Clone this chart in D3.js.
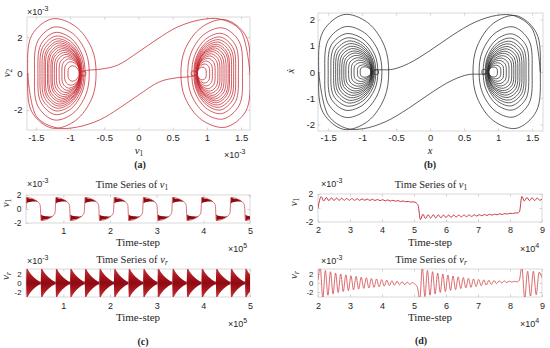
<!DOCTYPE html>
<html>
<head>
<meta charset="utf-8">
<script src="https://cdn.jsdelivr.net/npm/d3@7"></script>
<style>
body{margin:0;background:#fff}
text{font-family:"Liberation Sans",Arial,sans-serif;fill:#262626}
.serif{font-family:"Liberation Serif","Times New Roman",serif}
</style>
</head>
<body>
<script>
// ---- (a) phase portrait v1 vs v2 (x1e-3) : nested loops, outer edge / inner edge / half height
const aLeftOuter  = [-1.62,-1.52,-1.47,-1.44,-1.41,-1.38,-1.36,-1.33,-1.31,-1.28,-1.26,-1.23,-1.20,-1.16,-1.12,-1.08,-1.03];
const aLeftInner  = [-0.62,-0.72,-0.78,-0.80,-0.82,-0.83,-0.84,-0.84,-0.85,-0.85,-0.85,-0.86,-0.86,-0.86,-0.86,-0.86,-0.87];
const aLeftH      = [3.0,2.55,2.25,2.05,1.9,1.78,1.67,1.56,1.46,1.36,1.26,1.15,1.04,0.92,0.8,0.64,0.42];
const aRightOuter = [1.63,1.52,1.46,1.42,1.39,1.36,1.33,1.31,1.28,1.25,1.22,1.19,1.16,1.12,1.08,1.04,0.99];
const aRightInner = [0.62,0.72,0.78,0.81,0.82,0.83,0.84,0.85,0.85,0.85,0.86,0.86,0.86,0.86,0.86,0.86,0.86];
const aRightH     = [2.95,2.5,2.2,2.0,1.85,1.72,1.6,1.5,1.4,1.3,1.2,1.08,0.96,0.83,0.68,0.52,0.35];
const aKnotX = [-0.81, 0.81];
const aKnotH = [0.14, 0.14];
const aUpX  = [-0.80,-0.74,-0.55,-0.31,0,0.28,0.57,0.91,1.2,1.49,1.63];
const aUpY  = [0.12,0.18,0.24,0.45,1.18,1.9,2.55,2.95,2.98,2.36,0];
const aLowX = [0.80,0.74,0.55,0.31,0,-0.28,-0.57,-0.91,-1.2,-1.49,-1.62];
const aLowY = [-0.12,-0.18,-0.24,-0.45,-1.18,-1.9,-2.55,-2.95,-2.98,-2.36,0];

// ---- (b) phase portrait x vs xdot
const bLeftOuter  = [-1.64,-1.55,-1.50,-1.46,-1.42,-1.39,-1.36,-1.33,-1.30,-1.27,-1.24,-1.20,-1.16,-1.12,-1.07,-1.03];
const bLeftInner  = [-0.61,-0.71,-0.77,-0.80,-0.82,-0.83,-0.84,-0.85,-0.85,-0.86,-0.86,-0.86,-0.87,-0.87,-0.87,-0.87];
const bLeftH      = [2.19,1.73,1.46,1.30,1.18,1.08,0.98,0.89,0.80,0.72,0.63,0.54,0.45,0.36,0.27,0.2];
const bRightOuter = [1.62,1.50,1.45,1.41,1.38,1.35,1.32,1.29,1.26,1.23,1.20,1.16,1.12,1.08,1.04,0.99];
const bRightInner = [0.63,0.72,0.78,0.81,0.82,0.83,0.84,0.85,0.85,0.85,0.86,0.86,0.86,0.86,0.86,0.86];
const bRightH     = [2.15,1.72,1.45,1.29,1.17,1.07,0.97,0.88,0.79,0.71,0.62,0.53,0.44,0.35,0.26,0.19];
const bKnotX = [-0.80, 0.80];
const bKnotH = [0.1, 0.1];
const bUpX  = [-0.82,-0.78,-0.56,-0.32,0,0.32,0.66,0.98,1.23,1.50,1.62];
const bUpY  = [0.05,0.08,0.10,0.32,0.82,1.39,1.90,2.16,2.15,1.65,0];
const bLowX = [0.82,0.78,0.56,0.32,0,-0.32,-0.66,-0.98,-1.23,-1.50,-1.64];
const bLowY = [-0.05,-0.08,-0.10,-0.32,-0.82,-1.39,-1.90,-2.16,-2.15,-1.65,0];

// ---- (c) long time series (time in 1e5, values in 1e-3)
const cPosStart = [0.205,0.835,1.46,2.085,2.71,3.335,3.96,4.585];
const cNegStart = [0.517,1.145,1.77,2.395,3.02,3.645,4.27,4.895];
const cBandF  = [0.02,0.15,0.35,0.55,0.78];
const cPosHi  = [1.7,1.55,1.45,1.34,1.12];
const cPosLo  = [0.8,0.98,1.05,1.06,1.02];
const cNegHi  = [-0.8,-0.98,-1.05,-1.06,-1.02];
const cNegLo  = [-1.7,-1.55,-1.45,-1.34,-1.12];
const cLineF  = [0.02,0.78,0.88,0.96];
const cPosLine = [1.65,1.05,0.85,0.5];
const cNegLine = [-1.65,-1.05,-0.85,-0.5];
const cVrF   = [0,0.03,0.2,0.4,0.6,0.8,0.95,1.0];
const cVrAmp = [0.3,3.3,2.4,1.6,1.0,0.55,0.3,0.3];

// ---- (d) zoomed time series (time in 1e4, values in 1e-3), extrema
const dHalf = 0.08;
const dV1Lead = [[2.0,0.0],[2.1,1.62]];
const dV1Seg1 = [1.0,1.5,1.05,1.45,1.06,1.42,1.08,1.4,1.09,1.37,1.1,1.35,1.1,1.32,1.1,1.3,1.1,1.27,1.08,1.25,1.07,1.22,1.05,1.19,1.02,1.15,1.0,1.1,0.97,1.05,0.93,1.0,0.9,0.94,0.85,0.88];
const dV1Drop = [[5.07,0.72],[5.13,0.35],[5.2,-1.65]];
const dV1Seg2 = [-0.9,-1.5,-0.95,-1.45,-0.96,-1.42,-0.98,-1.4,-1.0,-1.37,-1.0,-1.34,-1.0,-1.3,-1.0,-1.27,-1.0,-1.24,-0.98,-1.2,-0.97,-1.16,-0.95,-1.12,-0.92,-1.07,-0.9,-1.02,-0.87,-0.97,-0.83,-0.92,-0.8,-0.86,-0.75,-0.79,-0.7,-0.72];
const dV1Rise = [[8.3,-0.45],[8.37,1.65]];
const dV1Seg3 = [1.0,1.5,1.05,1.45,1.06,1.42,1.1];
const dV1End  = [[9.0,1.3]];
const dVrLead = [[2.0,0.6]];
const dVrSeg1 = [3.5,-3.4,2.8,-2.7,2.5,-2.4,2.2,-2.1,2.0,-1.9,1.8,-1.7,1.6,-1.5,1.45,-1.35,1.3,-1.2,1.15,-1.1,1.0,-0.95,0.9,-0.85,0.75,-0.7,0.62,-0.58,0.5,-0.48,0.4,-0.4,0.3,-0.35,0.2,-0.3,0.1,-0.3];
const dVrDip  = [[5.1,-0.8],[5.18,-3.6]];
const dVrSeg2 = [3.6,-3.0,2.8,-2.7,2.5,-2.4,2.2,-2.1,2.0,-1.9,1.75,-1.65,1.55,-1.45,1.35,-1.25,1.2,-1.1,1.05,-0.95,0.9,-0.8,0.8,-0.6,0.7,-0.45,0.6,-0.3,0.55,-0.15,0.5,0.0,0.45,0.1,0.4,0.2,0.38,0.25];
const dVrSpike = [[8.29,0.6],[8.37,3.5],[8.46,-3.4]];
const dVrSeg3 = [2.6,-2.9,2.6,-2.6,2.4];
const dVrEnd  = [[9.0,1.2]];

const svg = d3.select('body').append('svg')
  .attr('width', 550)
  .attr('height', 348);

const defs = svg.append('defs');
const grad = defs.append('linearGradient').attr('id', 'vrGrad')
  .attr('x1', 0).attr('y1', 0).attr('x2', 0).attr('y2', 1);
[[0, '#c43a42'], [0.3, '#a8151d'], [0.5, '#8e0a12'], [0.7, '#a8151d'], [1, '#c43a42']]
  .forEach(s => grad.append('stop').attr('offset', s[0]).attr('stop-color', s[1]));

function panel(c) {
  const x = d3.scaleLinear().domain(c.xd).range([c.l, c.r]);
  const y = d3.scaleLinear().domain(c.yd).range([c.b, c.t]);
  const g = svg.append('g');
  const tk = '#d0d0d0';
  const gx = g.append('g').attr('transform', `translate(0,${c.b})`)
    .call(d3.axisBottom(x).tickValues(c.xt).tickSizeInner(-2.5).tickSizeOuter(0).tickPadding(c.xpad).tickFormat(d => d));
  const gy = g.append('g').attr('transform', `translate(${c.l},0)`)
    .call(d3.axisLeft(y).tickValues(c.yt).tickSizeInner(-2.5).tickSizeOuter(0).tickPadding(c.ypad).tickFormat(d => d));
  g.append('g').attr('transform', `translate(0,${c.t})`)
    .call(d3.axisTop(x).tickValues(c.xt).tickSizeInner(-2.5).tickSizeOuter(0).tickFormat(''));
  g.append('g').attr('transform', `translate(${c.r},0)`)
    .call(d3.axisRight(y).tickValues(c.yt).tickSizeInner(-2.5).tickSizeOuter(0).tickFormat(''));
  g.selectAll('.domain').remove();
  g.selectAll('.tick line').attr('stroke', tk);
  g.selectAll('.tick text').attr('fill', '#262626')
    .style('font-family', '"Liberation Sans",Arial,sans-serif');
  gx.selectAll('.tick text').style('font-size', c.fs + 'px');
  gy.selectAll('.tick text').style('font-size', (c.yfs || c.fs) + 'px');
  g.append('rect').attr('x', c.l).attr('y', c.t).attr('width', c.r - c.l).attr('height', c.b - c.t)
    .attr('fill', 'none').attr('stroke', tk).attr('stroke-width', 0.8);
  svg.append('clipPath').attr('id', 'clip' + c.id).append('rect')
    .attr('x', c.l).attr('y', c.t).attr('width', c.r - c.l).attr('height', c.b - c.t);
  const plot = svg.append('g').attr('clip-path', `url(#clip${c.id})`);
  return {x, y, plot};
}

function sci(x, y, e) {
  const t = svg.append('text').attr('x', x).attr('y', y).style('font-size', '9px');
  t.append('tspan').text('×10');
  t.append('tspan').attr('dy', -4).style('font-size', '7px').text(e);
}

function mathText(x, y, base, sub, opts) {
  const t = svg.append('text').attr('class', 'serif')
    .attr('text-anchor', opts.anchor || 'middle')
    .style('font-size', (opts.fs || 11) + 'px');
  if (opts.rotate) t.attr('transform', `translate(${x},${y}) rotate(-90)`);
  else t.attr('x', x).attr('y', y);
  if (opts.prefix) t.append('tspan').text(opts.prefix);
  t.append('tspan').style('font-style', 'italic').text(base);
  if (sub) t.append('tspan').attr('dy', 2).style('font-size', '7.5px')
    .style('font-style', opts.subItalic ? 'italic' : 'normal').text(sub);
  return t;
}

function plainText(x, y, s, fs, cls, weight) {
  svg.append('text').attr('x', x).attr('y', y).attr('text-anchor', 'middle')
    .attr('class', cls || null).style('font-size', fs + 'px')
    .style('font-weight', weight || 'normal').text(s);
}

// closed egg-like loop: steep inner side, dome leaning to the outer side
const loopLine = d3.line().curve(d3.curveCatmullRomClosed.alpha(0.5));
function loopPts(P, xo, xi, h) {
  const w = xi - xo;
  return [
    [xi, 0], [xi - 0.06 * w, 0.45 * h], [xi - 0.3 * w, 0.86 * h], [xo + 0.36 * w, h], [xo + 0.06 * w, 0.7 * h],
    [xo, 0], [xo + 0.06 * w, -0.7 * h], [xo + 0.36 * w, -h], [xi - 0.3 * w, -0.86 * h], [xi - 0.06 * w, -0.45 * h]
  ].map(p => [P.x(p[0]), P.y(p[1])]);
}
const openLine = d3.line().curve(d3.curveCatmullRom.alpha(0.5));

function phase(P, color, sw, L) {
  const loops = [];
  L.lo.forEach((v, i) => loops.push([v, L.li[i], L.lh[i]]));
  L.ro.forEach((v, i) => loops.push([v, L.ri[i], L.rh[i]]));
  P.plot.selectAll('path.loop').data(loops).join('path').attr('class', 'loop')
    .attr('d', d => loopLine(loopPts(P, d[0], d[1], d[2])))
    .attr('fill', 'none').attr('stroke', color).attr('stroke-width', sw);
  P.plot.selectAll('path.knot').data(L.kx).join('path').attr('class', 'knot')
    .attr('d', (d, i) => loopLine(loopPts(P, d - 0.04 * Math.sign(d), d + 0.04 * Math.sign(d), L.kh[i])))
    .attr('fill', 'none').attr('stroke', color).attr('stroke-width', sw);
  [[L.ux, L.uy], [L.wx, L.wy]].forEach(([xs, ys]) => {
    P.plot.append('path').attr('d', openLine(xs.map((v, i) => [P.x(v), P.y(ys[i])])))
      .attr('fill', 'none').attr('stroke', color).attr('stroke-width', sw);
  });
}

// ---------- (a)
const A = panel({id: 'a', l: 27, r: 250, t: 17, b: 130, xd: [-1.63, 1.63], yd: [-3.1, 3.1],
  xt: [-1.5, -1, -0.5, 0, 0.5, 1, 1.5], yt: [-2, 0, 2], xpad: 4.5, ypad: 4.5, fs: 9.5});
phase(A, '#c4262e', 0.75, {lo: aLeftOuter, li: aLeftInner, lh: aLeftH, ro: aRightOuter, ri: aRightInner, rh: aRightH,
  kx: aKnotX, kh: aKnotH, ux: aUpX, uy: aUpY, wx: aLowX, wy: aLowY});
sci(27, 15, '-3');
sci(224, 158, '-3');
mathText(139, 154, 'v', '1', {});
mathText(10, 73, 'v', '2', {rotate: true});
plainText(140, 168, '(a)', 10, 'serif', 'bold');

// ---------- (b)
const B = panel({id: 'b', l: 318, r: 543, t: 13, b: 131, xd: [-1.65, 1.66], yd: [-2.25, 2.25],
  xt: [-1.5, -1, -0.5, 0, 0.5, 1, 1.5], yt: [-2, -1, 0, 1, 2], xpad: 3.5, ypad: 3, fs: 9.5});
phase(B, '#2b2b2b', 0.75, {lo: bLeftOuter, li: bLeftInner, lh: bLeftH, ro: bRightOuter, ri: bRightInner, rh: bRightH,
  kx: bKnotX, kh: bKnotH, ux: bUpX, uy: bUpY, wx: bLowX, wy: bLowY});
mathText(430, 154, 'x', null, {fs: 10.5});
mathText(294, 71, 'ẋ', null, {rotate: true});
plainText(430, 168, '(b)', 10, 'serif', 'bold');

// ---------- (c)
const C1 = panel({id: 'c1', l: 26, r: 250, t: 195, b: 223, xd: [0.2, 5], yd: [-2, 2],
  xt: [1, 2, 3, 4, 5], yt: [-2, 0, 2], xpad: 5, ypad: 4.5, fs: 9, yfs: 8.5});
const C2 = panel({id: 'c2', l: 26, r: 250, t: 269, b: 297, xd: [0.2, 5], yd: [-3, 3],
  xt: [1, 2, 3, 4, 5], yt: [-2, 0, 2], xpad: 5.5, ypad: 4.5, fs: 9, yfs: 7.8});

const halves = [];
cPosStart.forEach((s, i) => {
  halves.push({s, e: cNegStart[i], pos: true});
  halves.push({s: cNegStart[i], e: cPosStart[i + 1] !== undefined ? cPosStart[i + 1] : cNegStart[i] + (cNegStart[i] - s), pos: false});
});

const band = d3.area().curve(d3.curveMonotoneX);
C1.plot.selectAll('path.band').data(halves).join('path').attr('class', 'band')
  .attr('d', h => {
    const hi = h.pos ? cPosHi : cNegHi, lo = h.pos ? cPosLo : cNegLo;
    return band.x(f => C1.x(h.s + f * (h.e - h.s))).y0((f, i) => C1.y(lo[i])).y1((f, i) => C1.y(hi[i]))(cBandF);
  })
  .attr('fill', '#8a0c12');

const cTrace = [[0.2, 0]];
halves.forEach(h => cLineF.forEach((f, i) => cTrace.push([h.s + f * (h.e - h.s), (h.pos ? cPosLine : cNegLine)[i]])));
C1.plot.append('path')
  .attr('d', d3.line().curve(d3.curveMonotoneX).x(d => C1.x(d[0])).y(d => C1.y(d[1]))(cTrace))
  .attr('fill', 'none').attr('stroke', '#cf4a50').attr('stroke-width', 0.8);

const vrArea = d3.area().curve(d3.curveMonotoneX);
C2.plot.selectAll('path.tri').data(halves).join('path').attr('class', 'tri')
  .attr('d', h => vrArea.x(f => C2.x(h.s + f * (h.e - h.s))).y0((f, i) => C2.y(-cVrAmp[i])).y1((f, i) => C2.y(cVrAmp[i]))(cVrF))
  .attr('fill', 'url(#vrGrad)');

sci(27, 187, '-3');
sci(228, 252, '5');
sci(27, 264, '-3');
sci(228, 327, '5');
mathText(132, 188, 'v', '1', {prefix: 'Time Series of ', fs: 10.5});
mathText(132, 263, 'v', 'r', {prefix: 'Time Series of ', fs: 10.5, subItalic: true});
plainText(138, 246, 'Time-step', 11, 'serif');
plainText(138, 321, 'Time-step', 11, 'serif');
mathText(9, 203, 'v', '1', {rotate: true});
mathText(9, 276, 'v', 'r', {rotate: true, subItalic: true});
plainText(143, 345, '(c)', 10, 'serif', 'bold');

// ---------- (d)
const D1 = panel({id: 'd1', l: 318, r: 542, t: 194, b: 222, xd: [2, 9], yd: [-2, 2],
  xt: [2, 3, 4, 5, 6, 7, 8, 9], yt: [-2, 0, 2], xpad: 5, ypad: 4.7, fs: 9, yfs: 8.5});
const D2 = panel({id: 'd2', l: 318, r: 542, t: 269, b: 297, xd: [2, 9], yd: [-3.1, 3.1],
  xt: [2, 3, 4, 5, 6, 7, 8, 9], yt: [-2, 0, 2], xpad: 5.5, ypad: 4.7, fs: 9, yfs: 7.8});

const seg = (t0, dt, vals) => vals.map((v, i) => [t0 + i * dt, v]);
const v1Pts = [].concat(dV1Lead, seg(2.18, dHalf, dV1Seg1), dV1Drop, seg(5.28, dHalf, dV1Seg2), dV1Rise, seg(8.45, dHalf, dV1Seg3), dV1End);
const vrPts = [].concat(dVrLead, seg(2.07, dHalf, dVrSeg1), dVrDip, seg(5.26, dHalf, dVrSeg2), dVrSpike, seg(8.55, 0.09, dVrSeg3), dVrEnd);

D1.plot.append('path')
  .attr('d', d3.line().curve(d3.curveMonotoneX).x(d => D1.x(d[0])).y(d => D1.y(d[1]))(v1Pts))
  .attr('fill', 'none').attr('stroke', '#c0242c').attr('stroke-width', 0.9);
D2.plot.append('path')
  .attr('d', d3.line().curve(d3.curveMonotoneX).x(d => D2.x(d[0])).y(d => D2.y(d[1]))(vrPts))
  .attr('fill', 'none').attr('stroke', '#d0454b').attr('stroke-width', 0.8);

sci(321, 187, '-3');
sci(520, 252, '4');
sci(321, 264, '-3');
sci(520, 327, '4');
mathText(431, 188, 'v', '1', {prefix: 'Time Series of ', fs: 10.5});
mathText(431, 263, 'v', 'r', {prefix: 'Time Series of ', fs: 10.5, subItalic: true});
plainText(430, 246, 'Time-step', 11, 'serif');
plainText(430, 321, 'Time-step', 11, 'serif');
mathText(297, 202, 'v', '1', {rotate: true});
mathText(297, 275, 'v', 'r', {rotate: true, subItalic: true});
plainText(421, 344, '(d)', 10, 'serif', 'bold');
</script>
</body>
</html>
